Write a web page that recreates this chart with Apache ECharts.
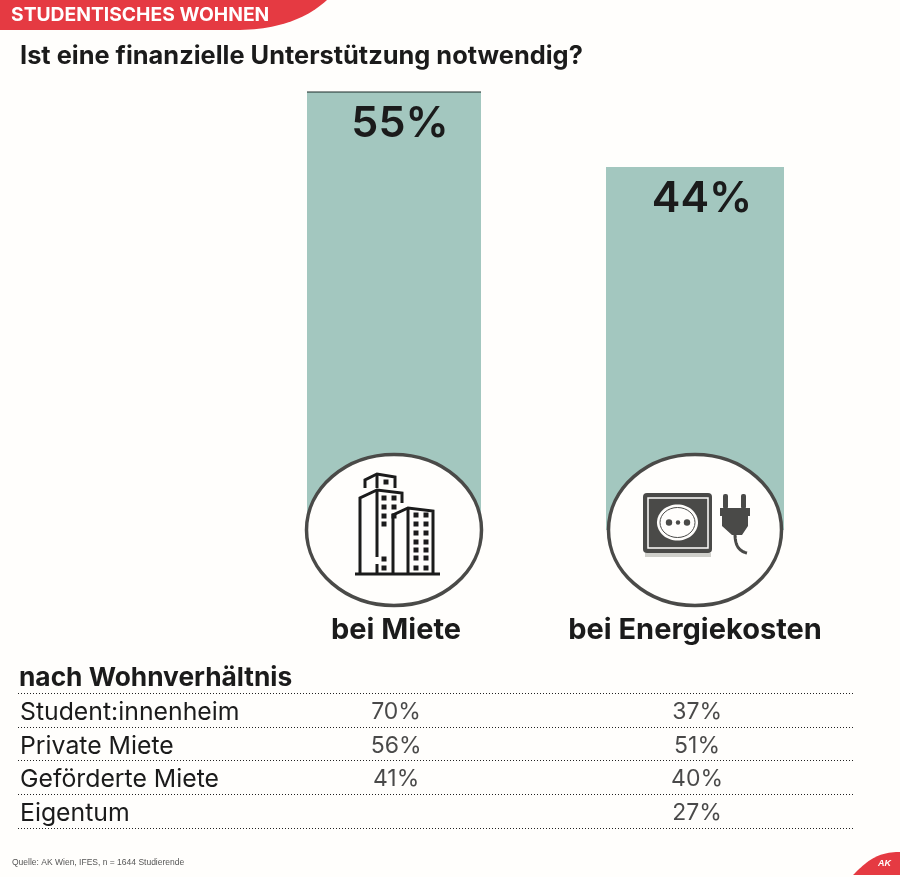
<!DOCTYPE html>
<html>
<head>
<meta charset="utf-8">
<style>html,body{margin:0;padding:0;background:#fffefc}#main{width:900px;height:877px}</style>
<script src="https://cdn.jsdelivr.net/npm/echarts@6/dist/echarts.min.js"></script>
</head>
<body>
<div id="main"></div>
<script>
var categories = ['bei Miete', 'bei Energiekosten'];
var shares = [55, 44];
var rowNames = ['Student:innenheim', 'Private Miete', 'Geförderte Miete', 'Eigentum'];
var rentByHousing = [70, 56, 41, null];
var energyByHousing = [37, 51, 40, 27];

var ink = '#1b1b1b', red = '#e53a42', teal = '#a3c7bf', iconGrey = '#4a4a48', paper = '#fffefc';
var font = 'Inter, "Liberation Sans", sans-serif';

// building and socket icons, circles, banner
var graphics = [];
function add(type, shape, style, z) {
    graphics.push({type: type, shape: shape, style: style, z: z || 10, silent: true});
}
function poly(points, width, color) {
    add('polyline', {points: points}, {stroke: color || ink, lineWidth: width || 3, fill: null}, 12);
}
function txt(text, x, y, size, weight, color, family) {
    graphics.push({type: 'text', z: 12, silent: true, style: {
        text: text, x: x, y: y, font: weight + ' ' + size + 'px ' + (family || font),
        fill: color, verticalAlign: 'middle'
    }});
}
// the graphic component has no svg path type, so curves go through polygons
function curve(a, b, c, d) {
    var pts = [];
    for (var i = 0; i <= 24; i++) {
        var t = i / 24, u = 1 - t;
        pts.push([
            u * u * u * a[0] + 3 * u * u * t * b[0] + 3 * u * t * t * c[0] + t * t * t * d[0],
            u * u * u * a[1] + 3 * u * u * t * b[1] + 3 * u * t * t * c[1] + t * t * t * d[1]
        ]);
    }
    return pts;
}

// header banner
add('polygon', {points: [[0, 0]].concat(curve([327, 0], [305, 20], [275, 30], [235, 30])).concat([[0, 30]])}, {fill: red});
txt('STUDENTISCHES WOHNEN', 11, 15, 19.3, 'bold', '#fff');
txt('Ist eine finanzielle Unterstützung notwendig?', 20, 56, 25.4, 'bold', ink);
add('line', {x1: 307, y1: 92, x2: 481, y2: 92}, {stroke: '#1a2a28', lineWidth: 1});

// the bars run on below the zero line, behind the circles
add('rect', {x: 307, y: 466, width: 174, height: 64}, {fill: teal}, 5);
add('rect', {x: 606, y: 466, width: 178, height: 64}, {fill: teal}, 5);
add('ellipse', {cx: 394, cy: 530, rx: 87.5, ry: 75.5}, {fill: paper, stroke: iconGrey, lineWidth: 3.5});
add('ellipse', {cx: 695, cy: 530, rx: 86.5, ry: 75.5}, {fill: paper, stroke: iconGrey, lineWidth: 3.5});

// building
poly([[355, 574], [440, 574]], 3);
poly([[360, 574], [360, 498], [377, 490], [402, 493], [402, 503]]);
poly([[377, 490], [377, 557]]);
poly([[377, 564], [377, 574]]);
poly([[365, 488], [365, 480], [377, 474], [395, 477], [395, 488]]);
poly([[377, 474], [377, 488]]);
poly([[393, 574], [393, 515], [408, 508], [433, 511], [433, 574]]);
poly([[408, 508], [408, 574]]);
[[386, 482], [384, 498], [394, 498], [384, 507], [394, 507], [384, 516], [394, 516], [384, 524], [384, 559], [384, 568]]
    .forEach(function (p) { add('rect', {x: p[0] - 2.5, y: p[1] - 2.5, width: 5, height: 5}, {fill: ink}, 12); });
[515, 524, 533, 542, 550, 558, 568].forEach(function (y) {
    [416, 426].forEach(function (x) { add('rect', {x: x - 2.5, y: y - 2.5, width: 5, height: 5}, {fill: ink}, 12); });
});

// socket
add('rect', {x: 645, y: 553, width: 66, height: 4}, {fill: '#cfcfca'}, 11);
add('rect', {x: 643, y: 493, width: 69, height: 60, r: 4}, {fill: iconGrey}, 12);
add('rect', {x: 648, y: 498, width: 60, height: 50}, {fill: null, stroke: paper, lineWidth: 1.5}, 13);
add('ellipse', {cx: 677.5, cy: 522.5, rx: 20.5, ry: 18}, {fill: paper}, 13);
add('ellipse', {cx: 677.5, cy: 522.5, rx: 17.5, ry: 15}, {fill: paper, stroke: iconGrey, lineWidth: 1}, 13);
[[669, 3.2], [678, 2.2], [687, 3.2]].forEach(function (d) {
    add('circle', {cx: d[0], cy: 522.5, r: d[1]}, {fill: iconGrey}, 14);
});

// plug
add('rect', {x: 723, y: 494, width: 5, height: 15, r: 2}, {fill: iconGrey}, 12);
add('rect', {x: 741, y: 494, width: 5, height: 15, r: 2}, {fill: iconGrey}, 12);
add('polygon', {points: [[720, 508], [750, 508], [750, 516], [748, 516], [748, 526], [742, 535], [732, 535], [722, 526], [722, 516], [720, 516]]}, {fill: iconGrey}, 12);
poly(curve([735, 534], [735, 544], [738, 551], [747, 553]), 3, iconGrey);

// heading of the table, source, logo
txt('nach Wohnverhältnis', 19, 678, 26.3, 'bold', ink);
txt('Quelle: AK Wien, IFES, n = 1644 Studierende', 12, 863, 8.5, 'normal', '#555', '"Liberation Sans"');
add('polygon', {points: curve([853, 875], [866, 862], [876, 853], [896, 852]).concat([[900, 852], [900, 875]])}, {fill: red});
graphics.push({type: 'text', z: 12, silent: true, style: {
    text: 'AK', x: 878, y: 864, font: 'italic bold 9px "Liberation Sans"', fill: '#fff', verticalAlign: 'middle'
}});

var barSeries = categories.map(function (name, i) {
    return {
        type: 'bar',
        xAxisIndex: 0,
        yAxisIndex: 0,
        barGap: '-100%',
        barWidth: [174, 178][i],
        data: shares.map(function (v, j) { return j === i ? v : null; }),
        itemStyle: {color: teal},
        label: {
            show: true,
            position: 'insideTop',
            distance: 10,
            offset: [[6, 7][i], 1],
            formatter: '{c}%',
            color: ink,
            fontFamily: 'Inter',
            fontWeight: 600,
            fontSize: 43
        }
    };
});

function cells(values, col) {
    return values.map(function (v, row) { return [col, row, v]; }).filter(function (c) { return c[2] !== null; });
}

var chart = echarts.init(document.getElementById('main'));
chart.setOption({
    backgroundColor: paper,
    animation: false,
    textStyle: {fontFamily: font},
    grid: [
        {left: 246.5, top: 92, width: 598, height: 375},
        {left: 18, top: 693, width: 835, height: 135}
    ],
    xAxis: [{
        type: 'category',
        gridIndex: 0,
        data: categories,
        axisLine: {show: false},
        axisTick: {show: false},
        axisLabel: {margin: 149, fontSize: 29, fontWeight: 'bold', color: ink, fontFamily: font, interval: 0}
    }, {
        type: 'value',
        gridIndex: 1,
        min: -1.256,
        max: 1.518,
        show: false
    }],
    yAxis: [{
        type: 'value',
        gridIndex: 0,
        min: 0,
        max: 55,
        show: false
    }, {
        type: 'category',
        gridIndex: 1,
        inverse: true,
        data: rowNames,
        axisLine: {show: false},
        axisTick: {show: false},
        axisLabel: {
            inside: true,
            margin: 2,
            formatter: '{row|{value}}',
            rich: {row: {fontSize: 24.8, color: ink, fontFamily: font, padding: [5, 0, 0, 0]}}
        },
        splitLine: {show: true, interval: 0, lineStyle: {color: '#222', type: [1, 2], width: 1}}
    }],
    series: barSeries.concat([rentByHousing, energyByHousing].map(function (values, col) {
        return {
            type: 'scatter',
            xAxisIndex: 1,
            yAxisIndex: 1,
            symbolSize: 1,
            itemStyle: {color: 'transparent'},
            data: cells(values, col),
            label: {
                show: true,
                position: 'inside',
                offset: [0, 2],
                formatter: function (p) { return p.value[2] + '%'; },
                fontSize: 23,
                color: ink,
                fontFamily: font
            }
        };
    })),
    graphic: {elements: graphics}
});
</script>
</body>
</html>
